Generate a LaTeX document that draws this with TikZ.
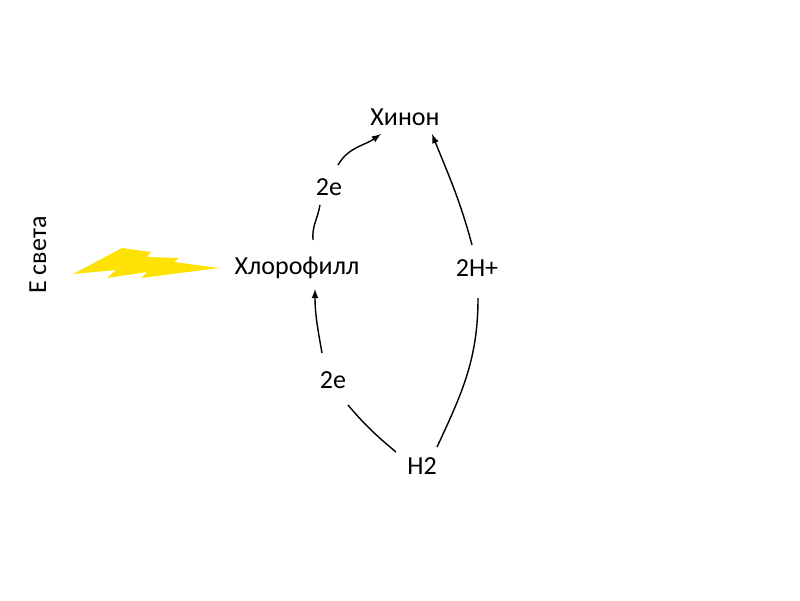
\documentclass[tikz,border=0pt]{standalone}
\usepackage{fontspec}
\setmainfont{Carlito}
\begin{document}
\begin{tikzpicture}[x=0.02cm,y=-0.02cm,
  lbl/.style={font=\fontsize{14.8}{17}\selectfont, inner sep=1pt},
  ln/.style={line width=0.8pt},
  arr/.style={ln, -latex}]
\useasboundingbox (0,0) rectangle (800,600);
\node[lbl] (hin) at (405,117) {Хинон};
\node[lbl] (chl) at (297,268) {Хлорофилл};
\node[lbl] (h2) at (422,466) {H2};
\node[lbl] (e1) at (329,187) {2e};
\node[lbl] (e2) at (333,380) {2e};
\node[lbl] (hp) at (477,268) {2H+};
\node[lbl, rotate=90] (esv) at (38,255) {Е света};
\fill[yellow!85!orange] (73,274) -- (122,248) -- (151,252) -- (147,257) -- (179,258) -- (174,262) -- (219,268) -- (141,278) -- (147,272) -- (107,278) -- (116,270) -- cycle;
% arrow 1
\draw[ln] ([shift={(16,-28)}]chl.center) to[out=95,in=-100] ([shift={(-9,18)}]e1.center);
\draw[arr] ([shift={(9,-22)}]e1.center) to[out=60,in=-145] ([shift={(-24,17)}]hin.center);
% arrow 2
\draw[ln] ([shift={(-26,-14)}]h2.center) to[out=140,in=-50] ([shift={(15,25)}]e2.center);
\draw[arr] ([shift={(-11,-27)}]e2.center) to[out=100,in=-90] ([shift={(18,21)}]chl.center);
% arrow 3
\draw[ln] ([shift={(15,-19)}]h2.center) to[out=65,in=-90] ([shift={(1,30)}]hp.center);
\draw[arr] ([shift={(-5,-23)}]hp.center) to[out=105,in=-68] ([shift={(27,17)}]hin.center);
\end{tikzpicture}
\end{document}
